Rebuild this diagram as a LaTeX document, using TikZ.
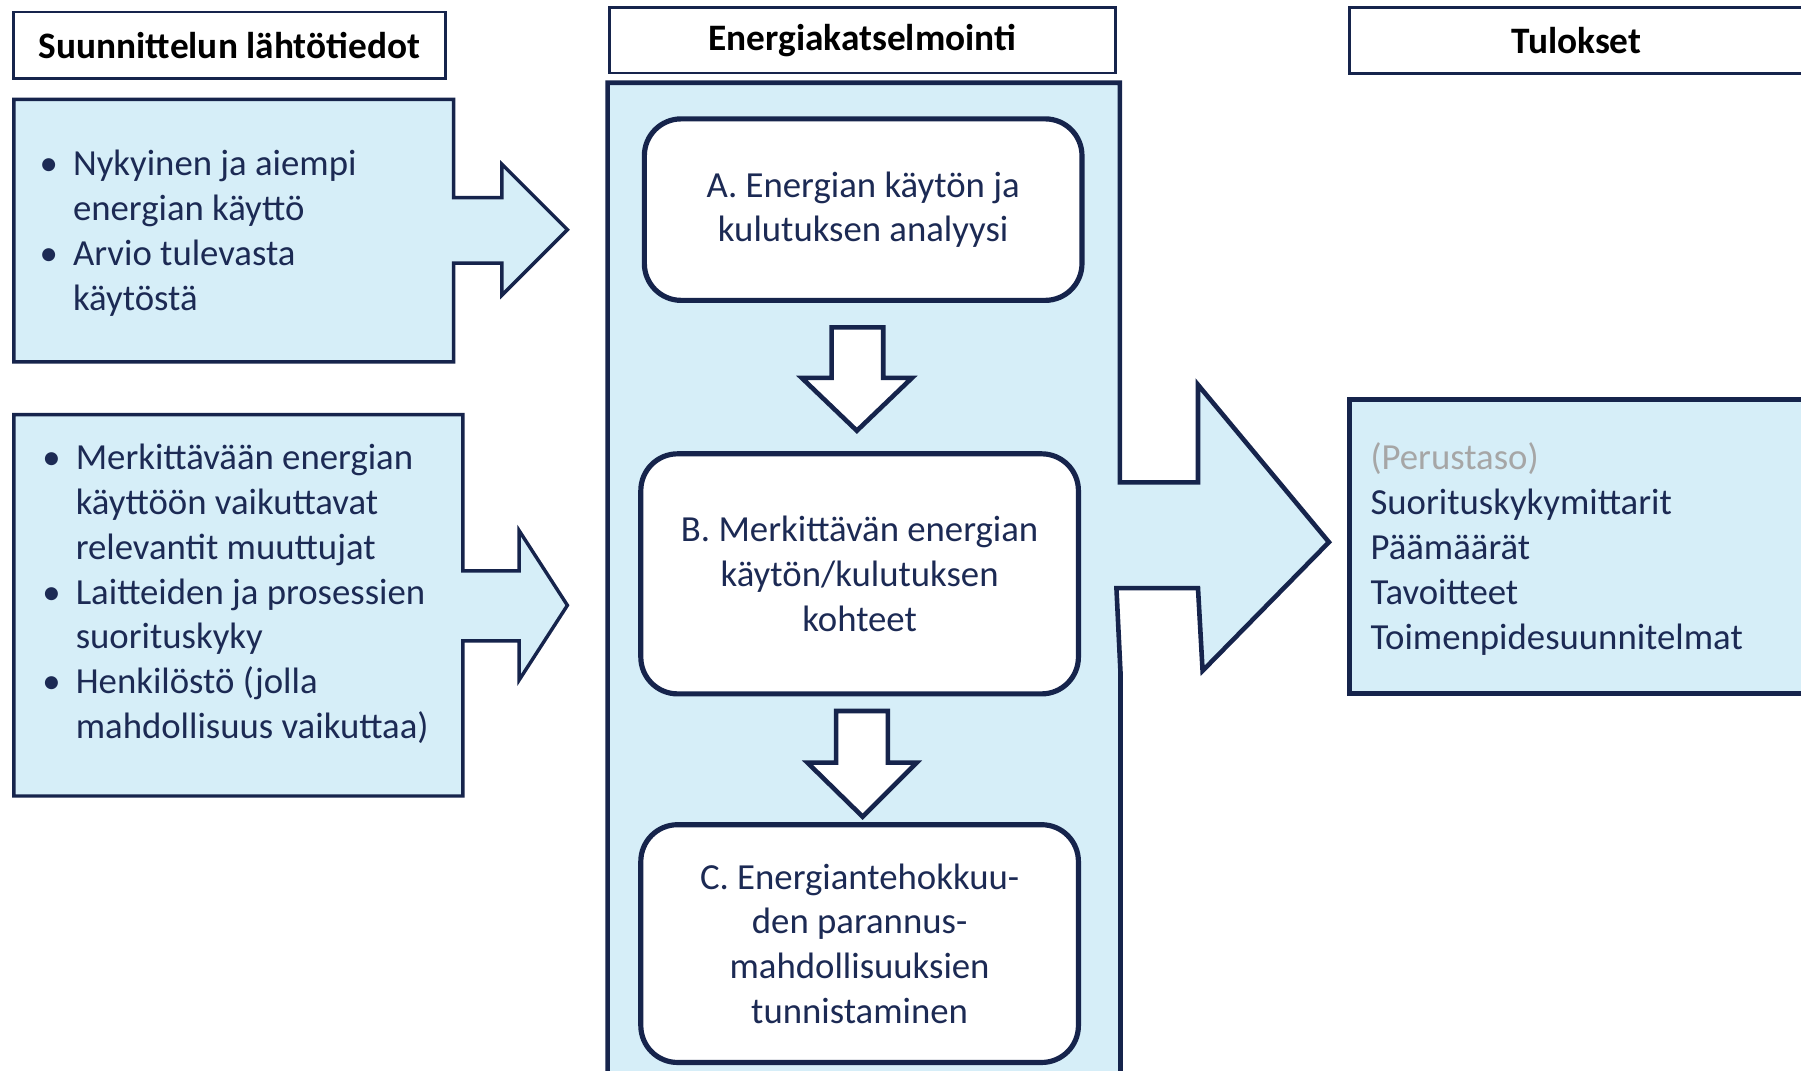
\documentclass[tikz,border=0pt]{standalone}
\usepackage{fontspec}
\setmainfont{Carlito}
\usepackage{tkz-euclide}
\usetikzlibrary{calc}

\definecolor{navyline}{RGB}{22,36,76}
\definecolor{navytext}{RGB}{28,42,84}
\definecolor{paleblue}{RGB}{214,238,248}
\definecolor{softgray}{RGB}{166,166,166}

\newcommand\listdot{\makebox[29pt][l]{\textbullet}}
\newcommand\listgap{\hspace*{29pt}}

\tikzset{
  headbox/.style={draw=navyline, line width=2.5pt, fill=white, inner sep=0pt,
    font=\fontsize{32.5}{38}\selectfont\bfseries, text=black},
  stagebox/.style={draw=navyline, line width=4.5pt, fill=white, rounded corners=32pt,
    minimum width=381pt, inner sep=0pt, align=center,
    font=\fontsize{32}{39}\selectfont, text=navytext},
  listtext/.style={inner sep=0pt, align=left, anchor=west,
    font=\fontsize{32}{39}\selectfont, text=navytext},
  bluefill/.style={draw=navyline, fill=paleblue, line join=miter},
}

\begin{document}
\begin{tikzpicture}[x=1pt,y=-1pt]
\useasboundingbox (0,0) rectangle (1568,932.4);
\clip (0,0) rectangle (1568,932.4);

% first input box with its arrow
\tkzDefPoint(12,86.5){Ia}
\tkzDefPoint(395,86.5){Ib}
\tkzDefPoint(395,172){Ic}
\tkzDefPoint(437,172){Id}
\tkzDefPoint(437,143){Ie}
\tkzDefPoint(494,200){If}
\tkzDefPoint(437,257){Ig}
\tkzDefPoint(437,229){Ih}
\tkzDefPoint(395,229){Ii}
\tkzDefPoint(395,315){Ij}
\tkzDefPoint(12,315){Ik}

% second input box with its arrow
\tkzDefPoint(12,361){Ja}
\tkzDefPoint(403,361){Jb}
\tkzDefPoint(403,497){Jc}
\tkzDefPoint(452,497){Jd}
\tkzDefPoint(452,462){Je}
\tkzDefPoint(494,527){Jf}
\tkzDefPoint(452,592){Jg}
\tkzDefPoint(452,558){Jh}
\tkzDefPoint(403,558){Ji}
\tkzDefPoint(403,693){Jj}
\tkzDefPoint(12,693){Jk}

% audit column and the big arrow
\tkzDefPoint(529,72){Ka}
\tkzDefPoint(975,72){Kb}
\tkzDefPoint(975,420){Kc}
\tkzDefPoint(1043,420){Kd}
\tkzDefPoint(1043,335){Ke}
\tkzDefPoint(1157,472){Kf}
\tkzDefPoint(1047,584){Kg}
\tkzDefPoint(1043,512){Kh}
\tkzDefPoint(972,512){Ki}
\tkzDefPoint(975.5,585){Kj}
\tkzDefPoint(975.5,960){Kk}
\tkzDefPoint(529,960){Kl}

% small down arrows
\tkzDefPoint(724,285){Da}
\tkzDefPoint(769,285){Db}
\tkzDefPoint(769,329){Dc}
\tkzDefPoint(794,329){Dd}
\tkzDefPoint(746,375){De}
\tkzDefPoint(698,329){Df}
\tkzDefPoint(724,329){Dg}

\tkzDefPoint(728,619){Ea}
\tkzDefPoint(773,619){Eb}
\tkzDefPoint(773,664){Ec}
\tkzDefPoint(798,664){Ed}
\tkzDefPoint(751,711){Ee}
\tkzDefPoint(703,664){Ef}
\tkzDefPoint(728,664){Eg}

\draw[bluefill, line width=3pt] (Ia) -- (Ib) -- (Ic) -- (Id) -- (Ie) -- (If)
  -- (Ig) -- (Ih) -- (Ii) -- (Ij) -- (Ik) -- cycle;
\draw[bluefill, line width=3pt] (Ja) -- (Jb) -- (Jc) -- (Jd) -- (Je) -- (Jf)
  -- (Jg) -- (Jh) -- (Ji) -- (Jj) -- (Jk) -- cycle;
\draw[bluefill, line width=4pt] (Ka) -- (Kb) -- (Kc) -- (Kd) -- (Ke) -- (Kf)
  -- (Kg) -- (Kh) -- (Ki) -- (Kj) -- (Kk) -- (Kl) -- cycle;
\draw[bluefill, line width=4pt] (1175,348) rectangle (1580,604);

\draw[draw=navyline, fill=white, line width=4pt] (Da) -- (Db) -- (Dc) -- (Dd)
  -- (De) -- (Df) -- (Dg) -- cycle;
\draw[draw=navyline, fill=white, line width=4pt] (Ea) -- (Eb) -- (Ec) -- (Ed)
  -- (Ee) -- (Ef) -- (Eg) -- cycle;

% headings
\node[headbox, minimum width=376pt, minimum height=58pt] (hInput) at (199.8,39.5) {Suunnittelun lähtötiedot};
\node[headbox, minimum width=440pt, minimum height=57pt] (hAudit) at (750.8,35) {Energiakatselmointi};
\node[headbox, minimum width=395pt, minimum height=57.5pt] (hResult) at (1372.5,35.2) {Tulokset};

% audit stages
\node[stagebox, minimum height=158pt] (stageA) at (751.5,182.5) {A. Energian käytön ja\\kulutuksen analyysi};
\node[stagebox, minimum height=209pt] (stageB) at (748.4,499.6) {B. Merkittävän energian\\käytön/kulutuksen\\kohteet};
\node[stagebox, minimum height=207pt] (stageC) at (748.4,821.5) {C. Energiantehokkuu-\\den parannus-\\mahdollisuuksien\\tunnistaminen};

% lists
\node[listtext] (inputA) at (34.4,203) {\listdot Nykyinen ja aiempi\\\listgap energian käyttö\\\listdot Arvio tulevasta\\\listgap käytöstä};
\node[listtext] (inputB) at (36.8,517) {\listdot Merkittävään energian\\\listgap käyttöön vaikuttavat\\\listgap relevantit muuttujat\\\listdot Laitteiden ja prosessien\\\listgap suorituskyky\\\listdot Henkilöstö (jolla\\\listgap mahdollisuus vaikuttaa)};
\node[listtext] (results) at (1193,478) {\textcolor{softgray}{(Perustaso)}\\Suorituskykymittarit\\Päämäärät\\Tavoitteet\\Toimenpidesuunnitelmat};

\end{tikzpicture}
\end{document}
